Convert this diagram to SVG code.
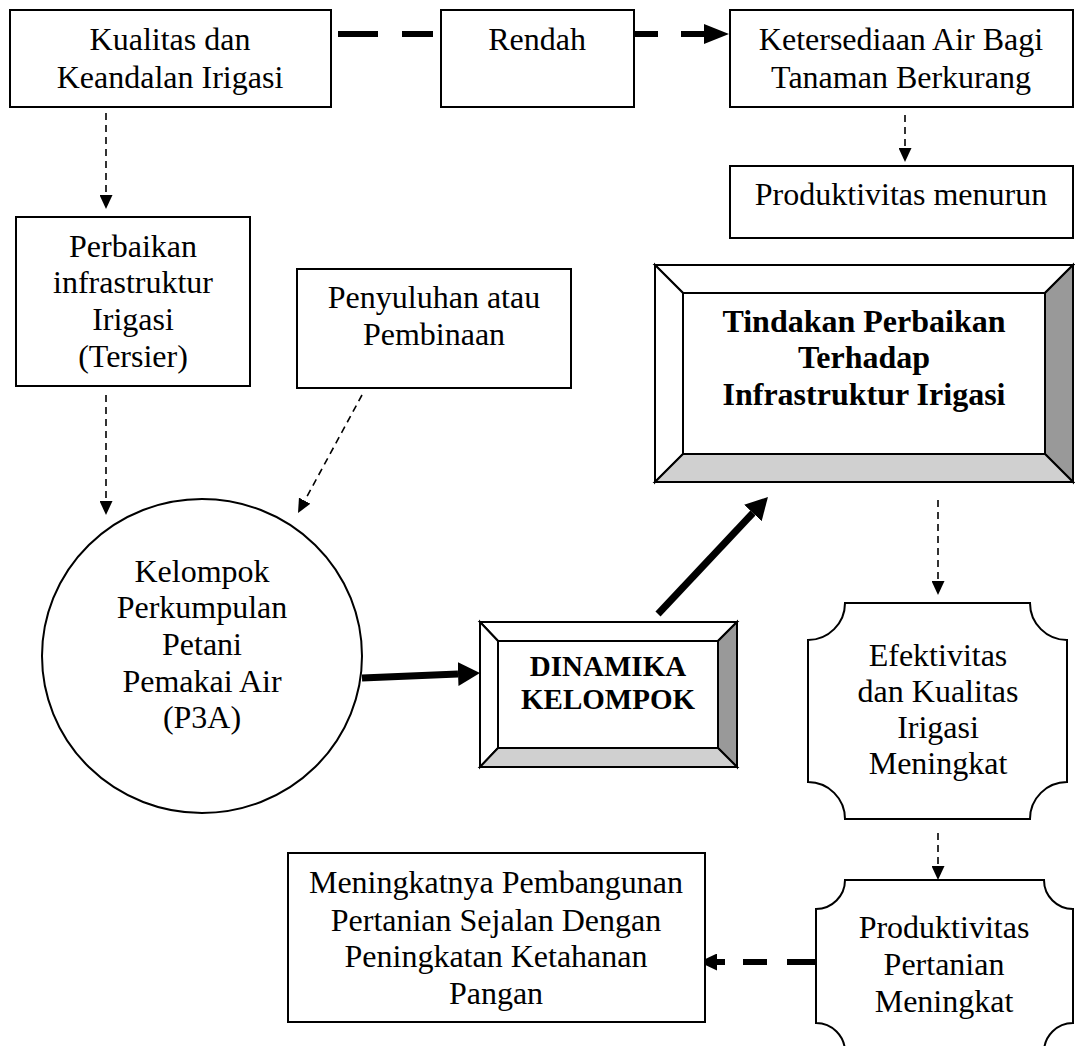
<svg xmlns="http://www.w3.org/2000/svg" width="1075" height="1046" viewBox="0 0 1075 1046">
<style>
.box{fill:#fff;stroke:#000;stroke-width:2}
.t{font-family:"Liberation Serif","Times New Roman",serif;font-size:32px;text-anchor:middle;fill:#000}
.b{font-weight:bold}
.bv{stroke:#000;stroke-width:2;stroke-linejoin:miter}
.thin{fill:none;stroke:#000;stroke-width:1.6;stroke-dasharray:7 5}
.thick{fill:none;stroke:#000;stroke-width:7}
.tdash{fill:none;stroke:#000;stroke-width:6}
</style>
<defs>
<marker id="ahThin" markerUnits="userSpaceOnUse" viewBox="0 0 14 13" markerWidth="14" markerHeight="13" refX="0" refY="6.5" orient="auto"><path d="M0,0 L14,6.5 L0,13 z" fill="#000"/></marker>
<marker id="ahThick" markerUnits="userSpaceOnUse" viewBox="0 0 22 24" markerWidth="22" markerHeight="24" refX="0" refY="12" orient="auto"><path d="M0,0 L22,12 L0,24 z" fill="#000"/></marker>
<marker id="ahDash" markerUnits="userSpaceOnUse" viewBox="0 0 25 20" markerWidth="25" markerHeight="20" refX="0" refY="10" orient="auto"><path d="M0,0 L25,10 L0,20 z" fill="#000"/></marker>
<marker id="ahDash2" markerUnits="userSpaceOnUse" viewBox="0 0 18 17" markerWidth="18" markerHeight="17" refX="0" refY="8.5" orient="auto"><path d="M0,0 L18,8.5 L0,17 z" fill="#000"/></marker>
</defs>

<g id="connectors">
<line class="tdash" x1="338" y1="34" x2="378" y2="34"/>
<line class="tdash" x1="402" y1="34" x2="433" y2="34"/>
<line class="tdash" x1="634" y1="34" x2="658" y2="34"/>
<line class="tdash" x1="681" y1="34" x2="704" y2="34" marker-end="url(#ahDash)"/>
<path class="thin" d="M106,113 V195" marker-end="url(#ahThin)"/>
<path class="thin" d="M905,115 V148" marker-end="url(#ahThin)"/>
<path class="thin" d="M106,395 V501" marker-end="url(#ahThin)"/>
<path class="thin" d="M362,395 L304.7,500.7" marker-end="url(#ahThin)"/>
<path class="thin" d="M938,500 V581" marker-end="url(#ahThin)"/>
<path class="thin" d="M938,833 V866" marker-end="url(#ahThin)"/>
<line class="thick" x1="362" y1="678" x2="458" y2="674" marker-end="url(#ahThick)"/>
<line class="thick" x1="658" y1="614" x2="752.9" y2="513" marker-end="url(#ahThick)"/>
<line class="tdash" x1="816" y1="962" x2="787" y2="962"/>
<line class="tdash" x1="767" y1="962" x2="743" y2="962"/>
<line class="tdash" x1="725" y1="962" x2="717" y2="962" marker-end="url(#ahDash2)"/>
</g>

<g id="kualitas">
<rect class="box" x="10" y="10" width="321" height="97"/>
<text class="t" x="170" y="50">Kualitas dan</text>
<text class="t" x="170" y="88">Keandalan Irigasi</text>
</g>

<g id="rendah">
<rect class="box" x="441" y="10" width="193" height="97"/>
<text class="t" x="537" y="50">Rendah</text>
</g>

<g id="ketersediaan">
<rect class="box" x="730" y="10" width="343" height="97"/>
<text class="t" x="901" y="50">Ketersediaan Air Bagi</text>
<text class="t" x="901" y="88">Tanaman Berkurang</text>
</g>

<g id="produktivitas-menurun">
<rect class="box" x="730" y="166" width="343" height="72"/>
<text class="t" x="901" y="205">Produktivitas menurun</text>
</g>

<g id="perbaikan">
<rect class="box" x="16" y="217" width="234" height="169"/>
<text class="t" x="133" y="257">Perbaikan</text>
<text class="t" x="133" y="293">infrastruktur</text>
<text class="t" x="133" y="330">Irigasi</text>
<text class="t" x="133" y="367">(Tersier)</text>
</g>

<g id="penyuluhan">
<rect class="box" x="297" y="269" width="274" height="119"/>
<text class="t" x="434" y="308">Penyuluhan atau</text>
<text class="t" x="434" y="345">Pembinaan</text>
</g>

<g id="tindakan">
<polygon class="bv" fill="#fff" points="655,265 1073,265 1045,293 683,293"/>
<polygon class="bv" fill="#fff" points="655,265 683,293 683,454 655,482"/>
<polygon class="bv" fill="#999" points="1073,265 1073,482 1045,454 1045,293"/>
<polygon class="bv" fill="#d0d0d0" points="655,482 683,454 1045,454 1073,482"/>
<rect class="bv" fill="#fff" x="683" y="293" width="362" height="161"/>
<text class="t b" x="864" y="332">Tindakan Perbaikan</text>
<text class="t b" x="864" y="368">Terhadap</text>
<text class="t b" x="864" y="405">Infrastruktur Irigasi</text>
</g>

<g id="p3a">
<ellipse class="box" cx="202" cy="656" rx="160" ry="157"/>
<text class="t" x="202" y="582">Kelompok</text>
<text class="t" x="202" y="618">Perkumpulan</text>
<text class="t" x="202" y="655">Petani</text>
<text class="t" x="202" y="692">Pemakai Air</text>
<text class="t" x="202" y="728">(P3A)</text>
</g>

<g id="dinamika">
<polygon class="bv" fill="#fff" points="480,622 737,622 718,641 498,641"/>
<polygon class="bv" fill="#fff" points="480,622 498,641 498,748 480,767"/>
<polygon class="bv" fill="#999" points="737,622 737,767 718,748 718,641"/>
<polygon class="bv" fill="#d0d0d0" points="480,767 498,748 718,748 737,767"/>
<rect class="bv" fill="#fff" x="498" y="641" width="220" height="107"/>
<text class="t b" style="font-size:29px" x="608" y="676">DINAMIKA</text>
<text class="t b" style="font-size:29px" x="608" y="709">KELOMPOK</text>
</g>

<g id="efektivitas">
<path class="box" d="M845,603 H1030 A37,37 0 0 0 1067,640 V782 A37,37 0 0 0 1030,819 H845 A37,37 0 0 0 808,782 V640 A37,37 0 0 0 845,603 Z"/>
<text class="t" x="938" y="666">Efektivitas</text>
<text class="t" x="938" y="702">dan Kualitas</text>
<text class="t" x="938" y="738">Irigasi</text>
<text class="t" x="938" y="774">Meningkat</text>
</g>

<g id="produktivitas-pertanian">
<path class="box" d="M845,880 H1044 A29,29 0 0 0 1073,909 V1023 A29,29 0 0 0 1044,1052 H845 A29,29 0 0 0 816,1023 V909 A29,29 0 0 0 845,880 Z"/>
<text class="t" x="944" y="938">Produktivitas</text>
<text class="t" x="944" y="975">Pertanian</text>
<text class="t" x="944" y="1012">Meningkat</text>
</g>

<g id="meningkatnya">
<rect class="box" x="288" y="853" width="417" height="169"/>
<text class="t" x="496" y="893">Meningkatnya Pembangunan</text>
<text class="t" x="496" y="931">Pertanian Sejalan Dengan</text>
<text class="t" x="496" y="967">Peningkatan Ketahanan</text>
<text class="t" x="496" y="1004">Pangan</text>
</g>
</svg>
